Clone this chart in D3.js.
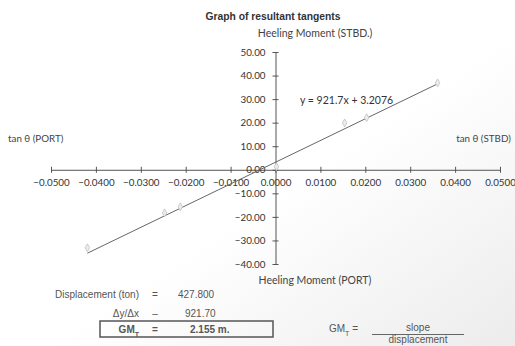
<!DOCTYPE html>
<html>
<head>
<meta charset="utf-8">
<script src="https://cdn.jsdelivr.net/npm/d3@7"></script>
<style>
  body { margin: 0; background: #fff; }
  svg { display: block; }
</style>
</head>
<body>
<svg width="515" height="346"></svg>
<script>
// data
var tanX = [-0.0419, -0.0247, -0.0212, 0.0002, 0.0154, 0.0203, 0.0361];
var moment = [-33.1, -18.3, -15.7, 1.3, 19.9, 22.1, 36.9];
var xTicks = [-0.05, -0.04, -0.03, -0.02, -0.01, 0, 0.01, 0.02, 0.03, 0.04, 0.05];
var yTicks = [-40, -30, -20, -10, 0, 10, 20, 30, 40, 50];
var slope = 921.7;
var intercept = 3.2076;

var svg = d3.select('svg');
var labelFont = 'Lato, "Open Sans", sans-serif';
var tableFont = '"Liberation Sans", Arial, sans-serif';

// background, a little shaded toward the lower right like the photo
var grad = svg.append('defs').append('linearGradient')
    .attr('id', 'bg').attr('x1', 0).attr('y1', 0).attr('x2', 1).attr('y2', 1);
grad.append('stop').attr('offset', '0.55').attr('stop-color', '#ffffff');
grad.append('stop').attr('offset', '1').attr('stop-color', '#ececec');
svg.append('rect').attr('width', 515).attr('height', 346).attr('fill', 'url(#bg)');

var xScale = d3.scaleLinear().domain([-0.05, 0.05]).range([51, 500]);
var yScale = d3.scaleLinear().domain([-40, 50]).range([264, 52]);

var axisColor = '#555';

// x axis sits on y = 0
var xAxis = d3.axisBottom(xScale)
    .tickValues(xTicks)
    .tickSize(0)
    .tickPadding(9)
    .tickFormat(d3.format('.4f'));
var xg = svg.append('g')
    .attr('transform', `translate(0,${yScale(0)})`)
    .call(xAxis);
xg.select('.domain').attr('stroke', axisColor);
xg.selectAll('.tick text')
    .attr('fill', '#333')
    .style('font-family', labelFont)
    .style('font-size', '9.8px');
xg.selectAll('.tick').append('line')
    .attr('y1', -3).attr('y2', 3)
    .attr('stroke', axisColor);

// y axis sits on x = 0
var yAxis = d3.axisLeft(yScale)
    .tickValues(yTicks)
    .tickSize(0)
    .tickPadding(10)
    .tickFormat(d3.format('.2f'));
var yg = svg.append('g')
    .attr('transform', `translate(${xScale(0)},0)`)
    .call(yAxis);
yg.select('.domain').attr('stroke', axisColor);
yg.selectAll('.tick text')
    .attr('fill', '#333')
    .style('font-family', labelFont)
    .style('font-size', '9.8px');
yg.selectAll('.tick').append('line')
    .attr('x1', -3).attr('x2', 3)
    .attr('stroke', axisColor);

// linear trendline over the data range
var xMin = d3.min(tanX), xMax = d3.max(tanX);
svg.append('line')
    .attr('x1', xScale(xMin))
    .attr('y1', yScale(slope * xMin + intercept))
    .attr('x2', xScale(xMax))
    .attr('y2', yScale(slope * xMax + intercept))
    .attr('stroke', '#666')
    .attr('stroke-width', 1);

// markers
svg.selectAll('.pt')
    .data(tanX)
    .enter()
    .append('path')
    .attr('class', 'pt')
    .attr('d', d3.symbol().type(d3.symbolDiamond).size(18))
    .attr('transform', (d, i) => `translate(${xScale(d)},${yScale(moment[i])})`)
    .attr('fill', '#ececec')
    .attr('stroke', '#c0c0c0')
    .attr('stroke-width', 0.8);

// titles and labels
svg.append('text')
    .attr('x', 273).attr('y', 20)
    .attr('text-anchor', 'middle')
    .style('font-family', tableFont)
    .style('font-size', '10.3px')
    .style('font-weight', 'bold')
    .attr('fill', '#333')
    .text('Graph of resultant tangents');
svg.append('text')
    .attr('x', 315).attr('y', 37)
    .attr('text-anchor', 'middle')
    .style('font-family', labelFont)
    .style('font-size', '10.5px')
    .attr('fill', '#444')
    .text('Heeling Moment (STBD.)');
svg.append('text')
    .attr('x', 315).attr('y', 284)
    .attr('text-anchor', 'middle')
    .style('font-family', labelFont)
    .style('font-size', '10.5px')
    .attr('fill', '#444')
    .text('Heeling Moment (PORT)');
svg.append('text')
    .attr('x', 8).attr('y', 142)
    .style('font-family', labelFont)
    .style('font-size', '9.8px')
    .attr('fill', '#444')
    .text('tan θ (PORT)');
svg.append('text')
    .attr('x', 511).attr('y', 142)
    .attr('text-anchor', 'end')
    .style('font-family', labelFont)
    .style('font-size', '9.8px')
    .attr('fill', '#444')
    .text('tan θ (STBD)');
svg.append('text')
    .attr('x', 300).attr('y', 104)
    .style('font-family', labelFont)
    .style('font-size', '10.5px')
    .attr('fill', '#333')
    .text('y = ' + slope + 'x + ' + intercept);

// calculation table under the chart
function tableText(x, y, txt, anchor, bold) {
    return svg.append('text')
        .attr('x', x).attr('y', y)
        .attr('text-anchor', anchor || 'start')
        .style('font-family', tableFont)
        .style('font-size', '10px')
        .style('font-weight', bold ? 'bold' : 'normal')
        .attr('fill', '#555')
        .text(txt);
}
tableText(139, 298, 'Displacement (ton)', 'end');
tableText(155, 298, '=', 'middle');
tableText(178, 298, '427.800');
tableText(139, 317, 'Δy/Δx', 'end');
tableText(155, 317, '–', 'middle');
tableText(185, 317, '921.70');

svg.append('rect')
    .attr('x', 100).attr('y', 321)
    .attr('width', 173).attr('height', 16)
    .attr('fill', 'none')
    .attr('stroke', '#555')
    .attr('stroke-width', 1.5);
var gm = tableText(139, 333, 'GM', 'end', true);
gm.append('tspan').attr('baseline-shift', 'sub').style('font-size', '7px').text('T');
tableText(155, 333, '=', 'middle', true);
tableText(190, 333, '2.155 m.', 'start', true);

var gm2 = tableText(329, 332, 'GM');
gm2.append('tspan').attr('baseline-shift', 'sub').style('font-size', '7px').text('T');
gm2.append('tspan').text(' =');
tableText(418, 331, 'slope', 'middle');
svg.append('line')
    .attr('x1', 372).attr('x2', 464)
    .attr('y1', 334.5).attr('y2', 334.5)
    .attr('stroke', '#666');
tableText(418, 343, 'displacement', 'middle');
</script>
</body>
</html>
